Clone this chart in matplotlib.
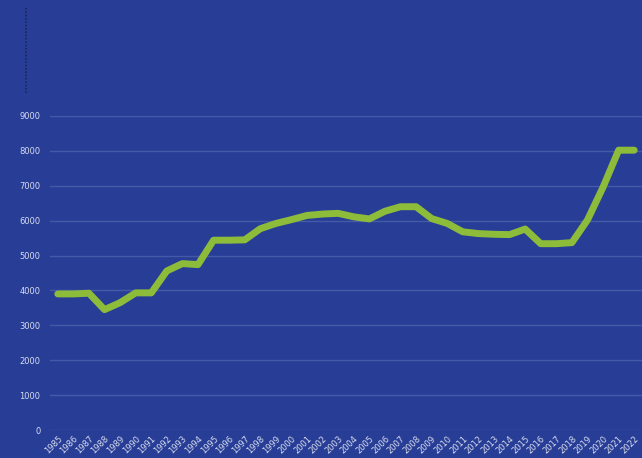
import matplotlib
matplotlib.use("Agg")
import matplotlib.pyplot as plt
from matplotlib.lines import Line2D

years = [str(y) for y in range(1985, 2023)]
values = [3900, 3900, 3920, 3450, 3650, 3930, 3930, 4560, 4770, 4740,
          5440, 5440, 5450, 5770, 5920, 6030, 6150, 6190, 6210, 6110,
          6050, 6270, 6400, 6400, 6060, 5920, 5680, 5630, 5610, 5600,
          5760, 5340, 5340, 5370, 6020, 6960, 8020, 8020]
yticks = [0, 1000, 2000, 3000, 4000, 5000, 6000, 7000, 8000, 9000]

bg = "#273D96"
fig = plt.figure(figsize=(6.42, 4.58), dpi=100, facecolor=bg)
ax = fig.add_axes([50/642, 28/458, 592/642, 314/458])
ax.set_facecolor(bg)

x = list(range(len(years)))
ax.plot(x, values, color="#8DBB3A", lw=5, solid_capstyle="round",
        solid_joinstyle="round", zorder=3)

ax.set_xlim(-0.5, len(years) - 0.5)
ax.set_ylim(0, 9000)
ax.set_yticks(yticks)
ax.set_yticklabels([str(v) for v in yticks])
ax.set_xticks(x)
ax.set_xticklabels(years, rotation=45, ha="right", rotation_mode="anchor")
ax.grid(axis="y", color="#4659A6", lw=1)
ax.set_axisbelow(True)
for s in ax.spines.values():
    s.set_visible(False)
ax.tick_params(axis="both", length=0, labelsize=6, colors="#D8DCEE")
ax.tick_params(axis="y", pad=7)
ax.tick_params(axis="x", pad=3)

# dotted marker line top-left
fig.add_artist(Line2D([26/642, 26/642], [1 - 8/458, 1 - 94/458],
                      color="#1B2660", lw=1.2, ls=(0, (1, 1))))

fig.savefig("out.png", dpi=100, facecolor=bg)
